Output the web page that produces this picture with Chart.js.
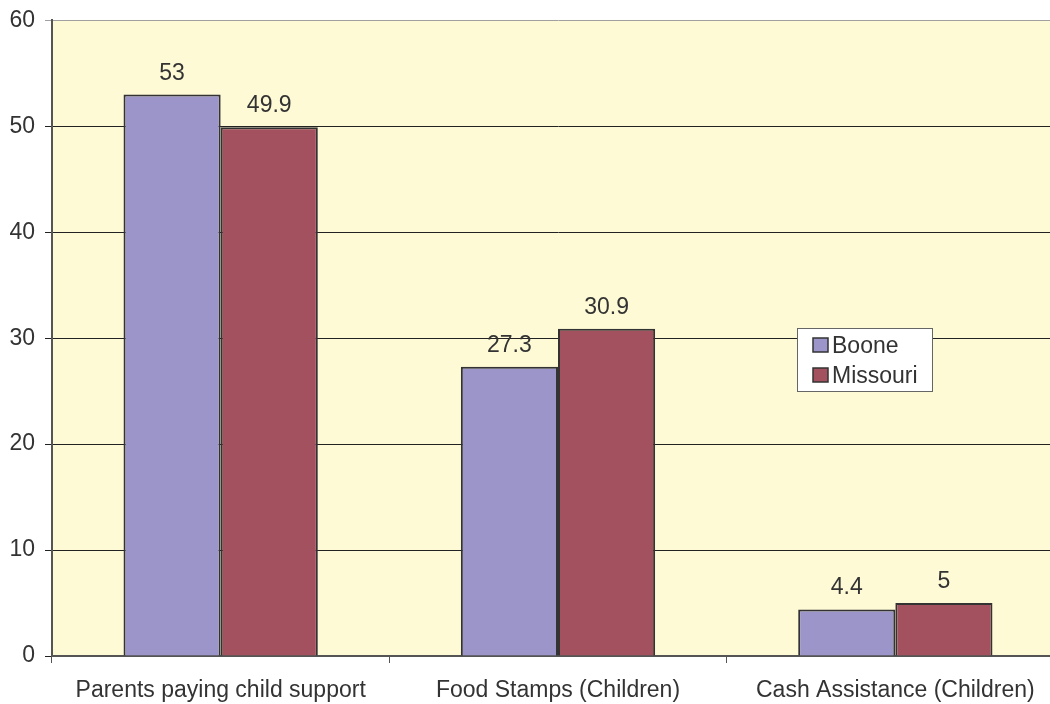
<!DOCTYPE html>
<html>
<head>
<meta charset="utf-8">
<script src="https://cdn.jsdelivr.net/npm/chart.js@4/dist/chart.umd.min.js"></script>
<style>
    html, body { margin: 0; padding: 0; background: #fff; overflow: hidden; }
    #wrap { width: 1064px; height: 704px; }
</style>
</head>
<body>
<div id="wrap"><canvas id="myChart" width="1064" height="704"></canvas></div>
<script>
const categories = ['Parents paying child support', 'Food Stamps (Children)', 'Cash Assistance (Children)'];
const booneValues = [53, 27.3, 4.4];
const missouriValues = [49.9, 30.9, 5];
const yTicks = [0, 10, 20, 30, 40, 50, 60];

const FONT = { family: 'Liberation Sans, Arial, sans-serif', size: 23 };
const TEXT = '#333333';

// yellow plot background
const plotBackground = {
    id: 'plotBackground',
    beforeDraw(chart) {
        const a = chart.chartArea;
        const ctx = chart.ctx;
        ctx.save();
        ctx.fillStyle = '#FFFAD6';
        ctx.fillRect(a.left, a.top, a.right - a.left, a.bottom - a.top);
        ctx.restore();
    }
};

// values above each bar
const barValues = {
    id: 'barValues',
    afterDatasetsDraw(chart) {
        const ctx = chart.ctx;
        ctx.save();
        ctx.font = FONT.size + 'px ' + FONT.family;
        ctx.fillStyle = TEXT;
        ctx.textAlign = 'center';
        ctx.textBaseline = 'alphabetic';
        chart.data.datasets.forEach((ds, i) => {
            chart.getDatasetMeta(i).data.forEach((bar, j) => {
                ctx.fillText(String(ds.data[j]), bar.x, bar.y - 15);
            });
        });
        ctx.restore();
    }
};

// legend box inside the plot
const boxLegend = {
    id: 'boxLegend',
    afterDraw(chart) {
        const ctx = chart.ctx;
        const x = 797, y = 328, w = 135, h = 63;
        ctx.save();
        ctx.fillStyle = '#ffffff';
        ctx.fillRect(x, y, w, h);
        ctx.strokeStyle = '#666666';
        ctx.lineWidth = 1;
        ctx.strokeRect(x + 0.5, y + 0.5, w, h);
        ctx.font = FONT.size + 'px ' + FONT.family;
        ctx.textBaseline = 'alphabetic';
        chart.data.datasets.forEach((ds, i) => {
            const rowY = y + 10 + i * 30;
            ctx.fillStyle = ds.backgroundColor;
            ctx.fillRect(x + 16, rowY, 15, 14);
            ctx.strokeStyle = '#333333';
            ctx.lineWidth = 1.5;
            ctx.strokeRect(x + 16, rowY, 15, 14);
            ctx.fillStyle = TEXT;
            ctx.fillText(ds.label, x + 35, rowY + 15);
        });
        ctx.restore();
    }
};

new Chart(document.getElementById('myChart'), {
    type: 'bar',
    data: {
        labels: categories,
        datasets: [{
            label: 'Boone',
            data: booneValues,
            backgroundColor: '#9B95C9',
            borderColor: '#333333',
            borderWidth: 2,
            borderSkipped: 'bottom'
        }, {
            label: 'Missouri',
            data: missouriValues,
            backgroundColor: '#A3505F',
            borderColor: '#333333',
            borderWidth: 2,
            borderSkipped: 'bottom'
        }]
    },
    options: {
        responsive: false,
        animation: false,
        layout: { padding: 0 },
        datasets: {
            bar: { barPercentage: 1, categoryPercentage: 0.576 }
        },
        plugins: {
            legend: { display: false },
            tooltip: { enabled: false }
        },
        scales: {
            x: {
                offset: true,
                grid: {
                    offset: true,
                    drawOnChartArea: false,
                    drawTicks: true,
                    tickLength: 7,
                    color: '#555555'
                },
                border: { color: '#555555', width: 2 },
                ticks: { color: TEXT, font: FONT, padding: 14, maxRotation: 0, autoSkip: false },
                afterFit(scale) { scale.height = 48; }
            },
            y: {
                min: 0,
                max: 60,
                afterBuildTicks(scale) { scale.ticks = yTicks.map(v => ({ value: v })); },
                grid: {
                    color: (c) => (c.tick && c.tick.value === 60 ? '#A0A0A0' : '#222222'),
                    lineWidth: 1,
                    drawTicks: true,
                    tickLength: 7
                },
                border: { color: '#555555', width: 2 },
                ticks: { color: TEXT, font: { family: FONT.family, size: FONT.size, lineHeight: 0.9 }, padding: 10 },
                afterFit(scale) { scale.width = 52; }
            }
        }
    },
    plugins: [plotBackground, barValues, boxLegend]
});
</script>
</body>
</html>
